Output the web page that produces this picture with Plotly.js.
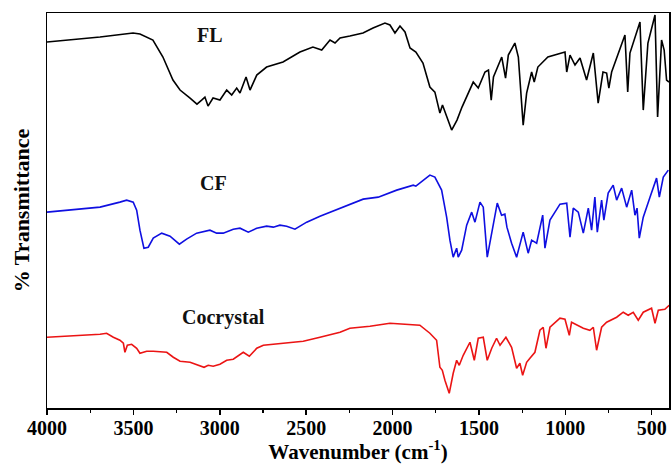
<!DOCTYPE html>
<html>
<head>
<meta charset="utf-8">
<script src="https://cdn.plot.ly/plotly-3.0.1.min.js"></script>
<style>html,body{margin:0;padding:0;background:#fff}#chart{width:671px;height:464px}</style>
</head>
<body>
<div id="chart"></div>
<script>
// FL (black)
const flWn = [4000,3867,3693,3502,3462,3387,3329,3271,3230,3172,3132,3105,3086,3068,3039,2999,2960,2931,2902,2883,2848,2825,2786,2729,2634,2536,2461,2410,2362,2333,2304,2247,2171,2113,2044,2015,1986,1957,1928,1899,1865,1824,1784,1755,1726,1711,1697,1658,1627,1598,1533,1504,1465,1445,1429,1416,1368,1346,1330,1292,1272,1254,1244,1224,1195,1180,1159,1101,1002,992,973,944,915,877,838,810,782,761,748,732,655,639,626,568,549,522,481,466,443,428,414,400];
const flT  = [366,368,371,375,374,368,351,328,318,310,304,308,311,302,310,308,318,313,320,315,331,318,333,341,346,356,361,358,368,365,370,372,375,380,385,383,375,382,376,360,356,345,321,316,295,303,296,278,288,301,326,320,336,338,308,331,351,330,353,365,351,311,283,315,336,326,341,351,356,336,353,343,350,328,355,305,336,335,320,336,373,316,355,386,298,365,393,291,368,358,328,326];
// CF (blue)
const cfWn = [4000,3790,3693,3578,3539,3501,3481,3462,3439,3414,3385,3336,3288,3234,3192,3134,3057,3018,2980,2922,2883,2835,2786,2729,2690,2652,2613,2565,2497,2420,2304,2266,2170,2083,1976,1880,1865,1784,1755,1716,1687,1668,1649,1629,1620,1600,1571,1542,1523,1494,1475,1452,1417,1394,1369,1350,1338,1311,1282,1244,1215,1195,1166,1131,1118,1089,1031,992,973,954,925,896,867,848,829,815,790,777,752,723,703,674,645,616,597,585,572,549,510,472,456,433,404];
const cfT  = [196,199,201,206,208,206,198,178,160,161,170,175,172,164,169,175,178,175,175,179,180,176,180,182,181,183,182,179,186,192,200,202,209,211,218,223,222,233,231,218,191,168,151,160,151,158,183,196,186,206,201,151,186,205,193,194,181,165,151,176,155,168,165,193,160,188,204,205,171,200,196,175,200,178,211,176,208,188,215,223,208,220,201,218,193,200,170,191,211,230,211,231,238];
// Cocrystal (red)
const ccWn = [4000,3886,3693,3655,3616,3578,3558,3549,3535,3510,3481,3462,3423,3385,3307,3269,3230,3172,3115,3091,3067,3038,2999,2960,2922,2864,2829,2786,2748,2633,2517,2420,2304,2247,2131,2015,1899,1842,1784,1745,1726,1712,1697,1672,1649,1629,1614,1591,1552,1527,1504,1475,1452,1426,1398,1378,1344,1311,1282,1263,1247,1224,1205,1176,1147,1128,1112,1089,1031,1002,977,964,896,858,838,819,790,761,703,665,636,607,578,549,501,481,462,424,399];
const ccT  = [71,72,74,75,71,68,65,56,63,64,60,55,57,57,56,51,47,46,43,41,43,42,44,48,49,56,52,60,63,65,67,71,76,80,82,85,84,83,75,68,41,38,28,15,35,48,43,53,66,48,70,71,48,60,70,63,71,61,40,45,33,46,50,56,78,81,60,81,90,89,73,86,80,78,81,58,81,86,91,96,93,96,88,96,100,85,98,99,103];

const labels = ["FL","CF","Cocrystal"];
const labelWn = [3057,3039,2981];
const labelT = [373,225,91];
const xTickVals = [4000,3500,3000,2500,2000,1500,1000,500];

const serif = "Liberation Serif, Times New Roman, serif";
const traces = [
  {x: flWn, y: flT, mode:'lines', line:{color:'rgb(0,0,0)', width:1.6}, name:'FL'},
  {x: cfWn, y: cfT, mode:'lines', line:{color:'rgb(15,15,225)', width:1.6}, name:'CF'},
  {x: ccWn, y: ccT, mode:'lines', line:{color:'rgb(235,20,20)', width:1.6}, name:'Cocrystal'}
];
const annotations = labels.map((t,i)=>({
  x: labelWn[i], y: labelT[i], xref:'x', yref:'y', text:t, showarrow:false,
  font:{family:serif, size:20, color:'#111', weight:'bold'}
}));
const layout = {
  width:671, height:464,
  margin:{l:47, r:2, t:13, b:56},
  paper_bgcolor:'#fff', plot_bgcolor:'#fff',
  showlegend:false,
  font:{family:serif, color:'#000'},
  xaxis:{
    range:[4000,400], tickvals:xTickVals, ticktext:xTickVals.map(String),
    ticks:'outside', ticklen:5, tickwidth:1.5, tickcolor:'#000', ticklabelstandoff:-4,
    minor:{dtick:250, tick0:0, ticks:'outside', ticklen:3, tickwidth:1.2, tickcolor:'#000', showgrid:false},
    showgrid:false, zeroline:false, showline:true, linecolor:'#000', linewidth:1.5, mirror:true,
    tickfont:{family:serif, size:20, color:'#000', weight:'bold'},
    title:{text:'Wavenumber (cm<sup>-1</sup>)', font:{family:serif, size:21, color:'#000', weight:'bold'}, standoff:8}
  },
  yaxis:{
    range:[0.3,395], showticklabels:false, ticks:'', showgrid:false, zeroline:false,
    showline:true, linecolor:'#000', linewidth:1.5, mirror:true,
    title:{text:'% Transmittance', font:{family:serif, size:22, color:'#000', weight:'bold'}, standoff:10}
  },
  annotations: annotations
};
Plotly.newPlot('chart', traces, layout, {displayModeBar:false, staticPlot:true});
</script>
</body>
</html>
